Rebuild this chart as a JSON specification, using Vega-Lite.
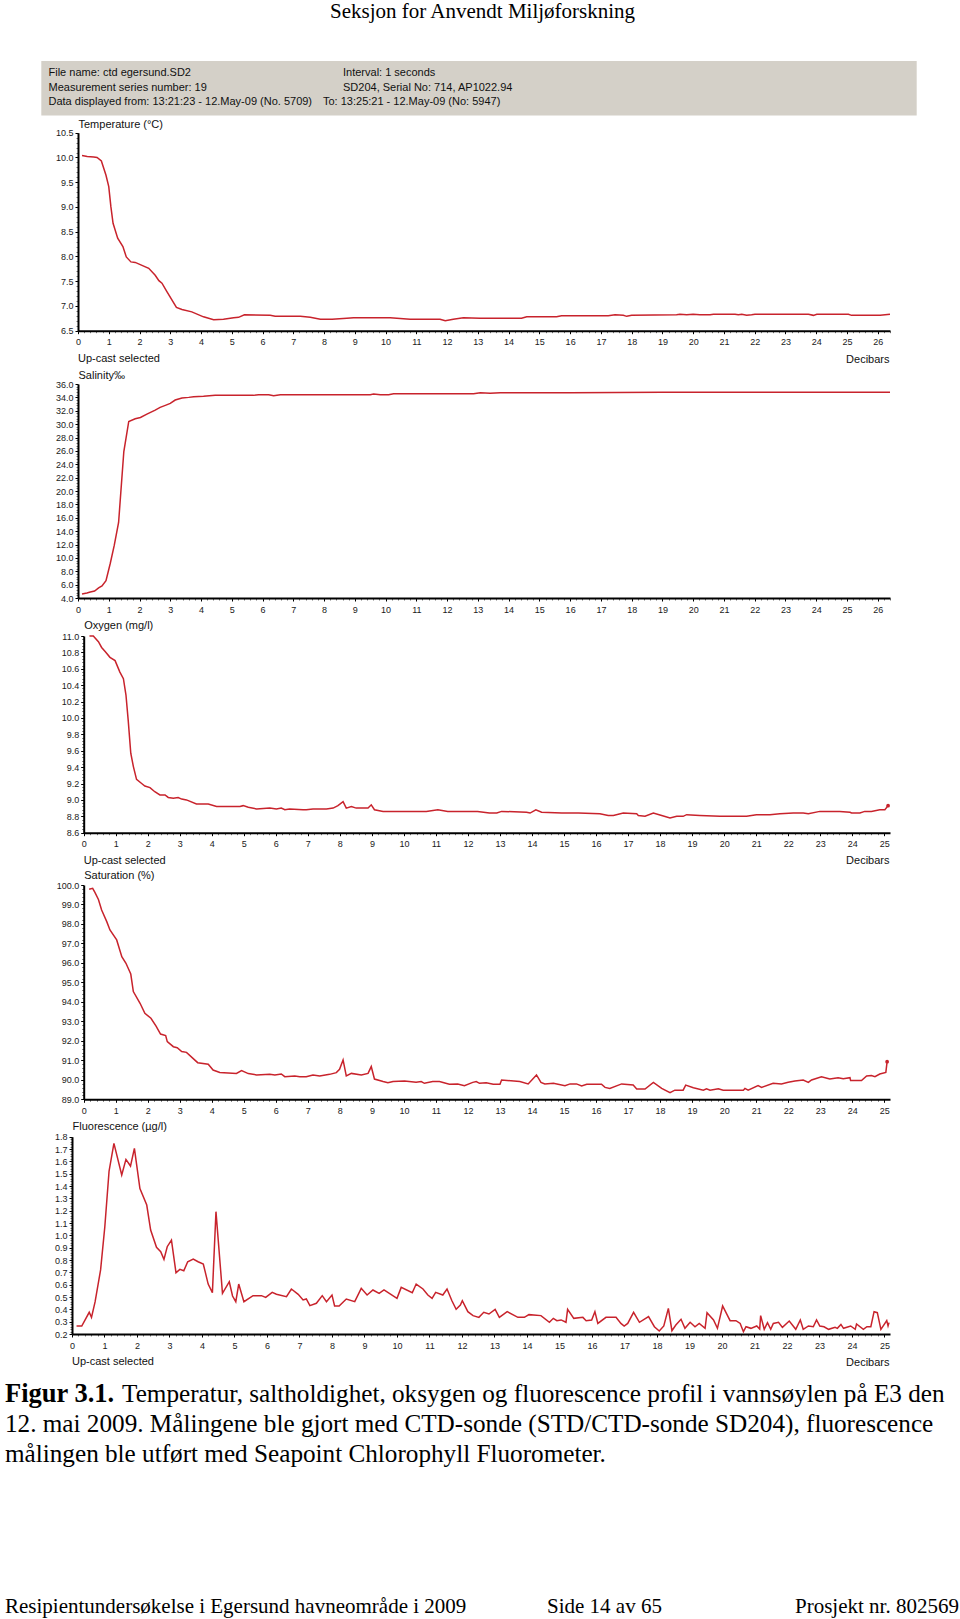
{
  "$schema": "https://vega.github.io/schema/vega-lite/v6.json",
  "width": 960,
  "height": 1619,
  "autosize": {"type": "none"},
  "padding": 0,
  "background": "white",
  "config": {
    "view": {"stroke": null},
    "axis": {
      "grid": false, "domainColor": "#000", "domainWidth": 2, "tickWidth": 1,
      "labelFont": "Liberation Sans", "labelFontSize": 9, "labelColor": "#1a1a1a", "labelFlush": false, "labelOverlap": false,
      "titleFont": "Liberation Sans", "titleFontSize": 11, "titleFontWeight": "normal", "titleColor": "#111"
    },
    "axisX": {"labelPadding": 4},
    "axisY": {"labelPadding": 2}
  },
  "resolve": {
    "scale": {"x": "independent", "y": "independent"},
    "axis": {"x": "independent", "y": "independent"}
  },
  "layer": [
    {
      "data": {"values": [{"item": "info"}]},
      "mark": {"type": "rect", "color": "#d4d0c8"},
      "encoding": {
        "x": {"field": "item", "type": "nominal", "scale": {"type": "band", "range": [41.3, 916.7], "paddingInner": 0, "paddingOuter": 0}, "axis": null},
        "y": {"field": "item", "type": "nominal", "scale": {"type": "band", "range": [61, 115.6], "paddingInner": 0, "paddingOuter": 0}, "axis": null}
      }
    },
    {
      "data": {"values": [
        {"slot": 1, "line": 1, "t": "File name: ctd egersund.SD2"},
        {"slot": 1, "line": 2, "t": "Measurement series number: 19"},
        {"slot": 1, "line": 3, "t": "Data displayed from: 13:21:23 - 12.May-09 (No. 5709)"},
        {"slot": 5, "line": 3, "t": "To: 13:25:21 - 12.May-09 (No: 5947)"},
        {"slot": 6, "line": 1, "t": "Interval: 1 seconds"},
        {"slot": 6, "line": 2, "t": "SD204, Serial No: 714, AP1022.94"},
        {"slot": 3, "line": 4, "t": "Up-cast selected"},
        {"slot": 4, "line": 5, "t": "Up-cast selected"},
        {"slot": 2, "line": 6, "t": "Up-cast selected"}
      ]},
      "mark": {"type": "text", "font": "Liberation Sans", "fontSize": 11, "align": "left", "baseline": "middle", "color": "#111"},
      "encoding": {
        "x": {"field": "slot", "type": "quantitative", "scale": {"domain": [1, 2, 3, 4, 5, 6], "range": [48.5, 72, 78, 83.7, 323, 343], "nice": false, "zero": false}, "axis": null},
        "y": {"field": "line", "type": "quantitative", "scale": {"domain": [1, 2, 3, 4, 5, 6], "range": [73.3, 87.7, 102.2, 358.7, 860.7, 1362.3], "nice": false, "zero": false}, "axis": null},
        "text": {"field": "t"}
      }
    },
    {
      "data": {"values": [
        {"kind": "page", "slot": 3, "line": 1, "t": "Seksjon for Anvendt Miljøforskning"},
        {"kind": "bold", "slot": 1, "line": 2, "t": "Figur 3.1."},
        {"kind": "cap", "slot": 2, "line": 2, "t": "Temperatur, saltholdighet, oksygen og fluorescence profil i vannsøylen på E3 den"},
        {"kind": "cap", "slot": 1, "line": 3, "t": "12. mai 2009. Målingene ble gjort med CTD-sonde (STD/CTD-sonde SD204), fluorescence"},
        {"kind": "cap", "slot": 1, "line": 4, "t": "målingen ble utført med Seapoint Chlorophyll Fluorometer."},
        {"kind": "page", "slot": 1, "line": 5, "t": "Resipientundersøkelse i Egersund havneområde i 2009"},
        {"kind": "page", "slot": 4, "line": 5, "t": "Side 14 av 65"},
        {"kind": "page", "slot": 5, "line": 5, "t": "Prosjekt nr. 802569"}
      ]},
      "encoding": {
        "x": {"field": "slot", "type": "quantitative", "scale": {"domain": [1, 2, 3, 4, 5], "range": [5, 122, 330, 547, 795], "nice": false, "zero": false}, "axis": null},
        "y": {"field": "line", "type": "quantitative", "scale": {"domain": [1, 2, 3, 4, 5], "range": [12.4, 1393.6, 1423.5, 1453.5, 1607.3], "nice": false, "zero": false}, "axis": null},
        "text": {"field": "t"}
      },
      "resolve": {"scale": {"x": "shared", "y": "shared"}},
      "layer": [
        {"transform": [{"filter": "datum.kind === 'page'"}], "mark": {"type": "text", "font": "Liberation Serif", "fontSize": 21, "align": "left", "baseline": "middle", "color": "#000"}},
        {"transform": [{"filter": "datum.kind === 'cap'"}], "mark": {"type": "text", "font": "Liberation Serif", "fontSize": 25.2, "align": "left", "baseline": "middle", "color": "#000"}},
        {"transform": [{"filter": "datum.kind === 'bold'"}], "mark": {"type": "text", "font": "Liberation Serif", "fontSize": 26.5, "fontWeight": "bold", "align": "left", "baseline": "middle", "color": "#000"}}
      ]
    },
    {
      "data": {"values": [
        {"p":0.13,"v":10.04},{"p":0.3,"v":10.02},{"p":0.51,"v":10.01},{"p":0.62,"v":10.0},{"p":0.76,"v":9.93},{"p":0.91,"v":9.64},{"p":1.0,"v":9.41},{"p":1.07,"v":9.0},{"p":1.14,"v":8.67},{"p":1.29,"v":8.37},{"p":1.46,"v":8.2},{"p":1.57,"v":7.99},{"p":1.72,"v":7.89},{"p":1.86,"v":7.88},{"p":2.08,"v":7.82},{"p":2.3,"v":7.76},{"p":2.51,"v":7.62},{"p":2.63,"v":7.51},{"p":2.73,"v":7.46},{"p":2.89,"v":7.29},{"p":3.2,"v":6.97},{"p":3.38,"v":6.93},{"p":3.7,"v":6.88},{"p":4.08,"v":6.78},{"p":4.41,"v":6.72},{"p":4.73,"v":6.73},{"p":5.06,"v":6.76},{"p":5.22,"v":6.77},{"p":5.41,"v":6.82},{"p":6.25,"v":6.81},{"p":6.41,"v":6.79},{"p":7.23,"v":6.79},{"p":7.55,"v":6.77},{"p":7.88,"v":6.73},{"p":8.26,"v":6.73},{"p":8.74,"v":6.75},{"p":8.96,"v":6.76},{"p":10.15,"v":6.76},{"p":10.58,"v":6.74},{"p":10.8,"v":6.73},{"p":11.77,"v":6.73},{"p":11.94,"v":6.70},{"p":12.2,"v":6.73},{"p":12.53,"v":6.76},{"p":13.07,"v":6.75},{"p":14.42,"v":6.75},{"p":14.59,"v":6.78},{"p":15.56,"v":6.78},{"p":15.72,"v":6.80},{"p":17.24,"v":6.80},{"p":17.46,"v":6.82},{"p":17.73,"v":6.81},{"p":17.84,"v":6.79},{"p":18.0,"v":6.81},{"p":19.46,"v":6.82},{"p":19.57,"v":6.83},{"p":19.79,"v":6.82},{"p":20.0,"v":6.83},{"p":20.22,"v":6.82},{"p":20.55,"v":6.82},{"p":20.66,"v":6.83},{"p":21.36,"v":6.83},{"p":21.47,"v":6.82},{"p":21.58,"v":6.83},{"p":21.74,"v":6.81},{"p":21.9,"v":6.82},{"p":22.01,"v":6.83},{"p":23.75,"v":6.83},{"p":23.91,"v":6.81},{"p":24.02,"v":6.83},{"p":25.05,"v":6.83},{"p":25.15,"v":6.81},{"p":26.08,"v":6.81},{"p":26.4,"v":6.83}
      ]},
      "mark": {"type": "line", "color": "#c8232c", "strokeWidth": 1.5},
      "encoding": {
        "x": {"field": "p", "type": "quantitative",
          "scale": {"domain": [0, 26.4], "range": [78, 890], "nice": false, "zero": false},
          "axis": {"orient": "bottom", "offset": -1288.3,
            "values": [0,0.2,0.4,0.6,0.8,1,1.2,1.4,1.6,1.8,2,2.2,2.4,2.6,2.8,3,3.2,3.4,3.6,3.8,4,4.2,4.4,4.6,4.8,5,5.2,5.4,5.6,5.8,6,6.2,6.4,6.6,6.8,7,7.2,7.4,7.6,7.8,8,8.2,8.4,8.6,8.8,9,9.2,9.4,9.6,9.8,10,10.2,10.4,10.6,10.8,11,11.2,11.4,11.6,11.8,12,12.2,12.4,12.6,12.8,13,13.2,13.4,13.6,13.8,14,14.2,14.4,14.6,14.8,15,15.2,15.4,15.6,15.8,16,16.2,16.4,16.6,16.8,17,17.2,17.4,17.6,17.8,18,18.2,18.4,18.6,18.8,19,19.2,19.4,19.6,19.8,20,20.2,20.4,20.6,20.8,21,21.2,21.4,21.6,21.8,22,22.2,22.4,22.6,22.8,23,23.2,23.4,23.6,23.8,24,24.2,24.4,24.6,24.8,25,25.2,25.4,25.6,25.8,26,26.2,26.4],
            "labelExpr": "datum.value % 1 === 0 ? format(datum.value, 'd') : ''",
            "tickSize": {"condition": {"test": "datum.value % 1 === 0", "value": 3}, "value": 2},
            "tickColor": {"condition": {"test": "datum.value % 1 === 0", "value": "#000"}, "value": "#777"},
            "title": "Decibars", "titleX": 889, "titleY": 28.5, "titleAlign": "right", "titleBaseline": "middle", "titleAngle": 0}},
        "y": {"field": "v", "type": "quantitative",
          "scale": {"domain": [6.5, 10.5], "range": [330.7, 132.7], "nice": false, "zero": false},
          "axis": {"orient": "left", "offset": -78,
            "values": [6.5,6.6,6.7,6.8,6.9,7,7.1,7.2,7.3,7.4,7.5,7.6,7.7,7.8,7.9,8,8.1,8.2,8.3,8.4,8.5,8.6,8.7,8.8,8.9,9,9.1,9.2,9.3,9.4,9.5,9.6,9.7,9.8,9.9,10,10.1,10.2,10.3,10.4,10.5],
            "labelExpr": "abs(datum.value*2 - round(datum.value*2)) < 0.001 ? format(datum.value, '.1f') : ''",
            "tickSize": {"condition": {"test": "abs(datum.value*2 - round(datum.value*2)) < 0.001", "value": 3}, "value": 2},
            "tickColor": {"condition": {"test": "abs(datum.value*2 - round(datum.value*2)) < 0.001", "value": "#000"}, "value": "#777"},
            "title": "Temperature (°C)", "titleAngle": 0, "titleX": 0, "titleY": 124, "titleAlign": "left", "titleBaseline": "middle"}}
      }
    },
    {
      "data": {"values": [
        {"p":0.13,"v":4.6},{"p":0.29,"v":4.75},{"p":0.4,"v":4.9},{"p":0.54,"v":5.05},{"p":0.67,"v":5.5},{"p":0.78,"v":5.8},{"p":0.91,"v":6.6},{"p":1.05,"v":9.2},{"p":1.18,"v":11.9},{"p":1.32,"v":15.3},{"p":1.49,"v":25.9},{"p":1.65,"v":30.4},{"p":1.86,"v":30.8},{"p":2.03,"v":31.0},{"p":2.24,"v":31.5},{"p":2.51,"v":32.1},{"p":2.67,"v":32.5},{"p":2.84,"v":32.8},{"p":3.0,"v":33.1},{"p":3.16,"v":33.6},{"p":3.38,"v":33.9},{"p":3.6,"v":34.0},{"p":3.76,"v":34.1},{"p":4.08,"v":34.15},{"p":4.46,"v":34.3},{"p":5.71,"v":34.3},{"p":5.87,"v":34.4},{"p":6.2,"v":34.4},{"p":6.36,"v":34.25},{"p":6.58,"v":34.4},{"p":9.5,"v":34.4},{"p":9.61,"v":34.5},{"p":9.83,"v":34.4},{"p":10.1,"v":34.4},{"p":10.26,"v":34.55},{"p":12.86,"v":34.55},{"p":13.08,"v":34.7},{"p":13.4,"v":34.6},{"p":13.73,"v":34.7},{"p":14.5,"v":34.7},{"p":16.0,"v":34.7},{"p":17.5,"v":34.72},{"p":19.0,"v":34.75},{"p":20.5,"v":34.75},{"p":22.0,"v":34.75},{"p":23.5,"v":34.75},{"p":25.0,"v":34.75},{"p":26.4,"v":34.75}
      ]},
      "mark": {"type": "line", "color": "#c8232c", "strokeWidth": 1.5},
      "encoding": {
        "x": {"field": "p", "type": "quantitative",
          "scale": {"domain": [0, 26.4], "range": [78, 890], "nice": false, "zero": false},
          "axis": {"orient": "bottom", "offset": -1021,
            "values": [0,0.2,0.4,0.6,0.8,1,1.2,1.4,1.6,1.8,2,2.2,2.4,2.6,2.8,3,3.2,3.4,3.6,3.8,4,4.2,4.4,4.6,4.8,5,5.2,5.4,5.6,5.8,6,6.2,6.4,6.6,6.8,7,7.2,7.4,7.6,7.8,8,8.2,8.4,8.6,8.8,9,9.2,9.4,9.6,9.8,10,10.2,10.4,10.6,10.8,11,11.2,11.4,11.6,11.8,12,12.2,12.4,12.6,12.8,13,13.2,13.4,13.6,13.8,14,14.2,14.4,14.6,14.8,15,15.2,15.4,15.6,15.8,16,16.2,16.4,16.6,16.8,17,17.2,17.4,17.6,17.8,18,18.2,18.4,18.6,18.8,19,19.2,19.4,19.6,19.8,20,20.2,20.4,20.6,20.8,21,21.2,21.4,21.6,21.8,22,22.2,22.4,22.6,22.8,23,23.2,23.4,23.6,23.8,24,24.2,24.4,24.6,24.8,25,25.2,25.4,25.6,25.8,26,26.2,26.4],
            "labelExpr": "datum.value % 1 === 0 ? format(datum.value, 'd') : ''",
            "tickSize": {"condition": {"test": "datum.value % 1 === 0", "value": 3}, "value": 2},
            "tickColor": {"condition": {"test": "datum.value % 1 === 0", "value": "#000"}, "value": "#777"},
            "title": null}},
        "y": {"field": "v", "type": "quantitative",
          "scale": {"domain": [4, 36], "range": [598, 384], "nice": false, "zero": false},
          "axis": {"orient": "left", "offset": -78,
            "values": [4,4.4,4.8,5.2,5.6,6,6.4,6.8,7.2,7.6,8,8.4,8.8,9.2,9.6,10,10.4,10.8,11.2,11.6,12,12.4,12.8,13.2,13.6,14,14.4,14.8,15.2,15.6,16,16.4,16.8,17.2,17.6,18,18.4,18.8,19.2,19.6,20,20.4,20.8,21.2,21.6,22,22.4,22.8,23.2,23.6,24,24.4,24.8,25.2,25.6,26,26.4,26.8,27.2,27.6,28,28.4,28.8,29.2,29.6,30,30.4,30.8,31.2,31.6,32,32.4,32.8,33.2,33.6,34,34.4,34.8,35.2,35.6,36],
            "labelExpr": "abs(datum.value/2 - round(datum.value/2)) < 0.001 ? format(datum.value, '.1f') : ''",
            "tickSize": {"condition": {"test": "abs(datum.value/2 - round(datum.value/2)) < 0.001", "value": 3}, "value": 2},
            "tickColor": {"condition": {"test": "abs(datum.value/2 - round(datum.value/2)) < 0.001", "value": "#000"}, "value": "#777"},
            "title": "Salinity‰", "titleAngle": 0, "titleX": 0, "titleY": 375, "titleAlign": "left", "titleBaseline": "middle"}}
      }
    },
    {
      "data": {"values": [
        {"p":0.18,"v":11.0},{"p":0.3,"v":11.0},{"p":0.46,"v":10.93},{"p":0.56,"v":10.86},{"p":0.67,"v":10.81},{"p":0.82,"v":10.74},{"p":0.98,"v":10.70},{"p":1.13,"v":10.56},{"p":1.24,"v":10.48},{"p":1.32,"v":10.28},{"p":1.39,"v":9.97},{"p":1.47,"v":9.57},{"p":1.55,"v":9.41},{"p":1.65,"v":9.25},{"p":1.81,"v":9.20},{"p":1.91,"v":9.17},{"p":2.07,"v":9.15},{"p":2.22,"v":9.1},{"p":2.38,"v":9.06},{"p":2.54,"v":9.06},{"p":2.64,"v":9.03},{"p":2.8,"v":9.02},{"p":2.95,"v":9.03},{"p":3.06,"v":9.01},{"p":3.21,"v":9.0},{"p":3.52,"v":8.95},{"p":3.89,"v":8.95},{"p":4.15,"v":8.92},{"p":4.88,"v":8.92},{"p":4.98,"v":8.93},{"p":5.14,"v":8.91},{"p":5.4,"v":8.89},{"p":5.81,"v":8.90},{"p":6.02,"v":8.89},{"p":6.17,"v":8.90},{"p":6.28,"v":8.88},{"p":6.43,"v":8.89},{"p":6.85,"v":8.88},{"p":6.95,"v":8.88},{"p":7.16,"v":8.89},{"p":7.58,"v":8.89},{"p":7.79,"v":8.90},{"p":7.94,"v":8.93},{"p":8.1,"v":8.98},{"p":8.2,"v":8.90},{"p":8.36,"v":8.92},{"p":8.51,"v":8.90},{"p":8.88,"v":8.90},{"p":8.98,"v":8.94},{"p":9.08,"v":8.88},{"p":9.35,"v":8.86},{"p":9.5,"v":8.86},{"p":10.59,"v":8.86},{"p":10.7,"v":8.86},{"p":11.06,"v":8.88},{"p":11.37,"v":8.86},{"p":11.79,"v":8.86},{"p":12.05,"v":8.86},{"p":12.3,"v":8.86},{"p":12.67,"v":8.84},{"p":12.9,"v":8.84},{"p":13.05,"v":8.86},{"p":13.83,"v":8.85},{"p":13.94,"v":8.84},{"p":14.12,"v":8.88},{"p":14.3,"v":8.85},{"p":14.93,"v":8.84},{"p":15.08,"v":8.84},{"p":15.45,"v":8.84},{"p":16.12,"v":8.83},{"p":16.38,"v":8.81},{"p":16.54,"v":8.81},{"p":16.85,"v":8.84},{"p":17.27,"v":8.83},{"p":17.32,"v":8.81},{"p":17.53,"v":8.80},{"p":17.79,"v":8.84},{"p":18.05,"v":8.81},{"p":18.31,"v":8.78},{"p":18.52,"v":8.80},{"p":18.72,"v":8.80},{"p":18.83,"v":8.82},{"p":19.24,"v":8.81},{"p":19.87,"v":8.80},{"p":20.7,"v":8.80},{"p":21.01,"v":8.82},{"p":21.43,"v":8.82},{"p":21.74,"v":8.83},{"p":22.16,"v":8.84},{"p":22.47,"v":8.84},{"p":22.63,"v":8.83},{"p":22.99,"v":8.86},{"p":23.4,"v":8.86},{"p":23.61,"v":8.86},{"p":23.93,"v":8.85},{"p":23.98,"v":8.84},{"p":24.24,"v":8.84},{"p":24.39,"v":8.86},{"p":24.6,"v":8.86},{"p":24.86,"v":8.88},{"p":25.02,"v":8.88},{"p":25.12,"v":8.93}
      ]},
      "encoding": {
        "x": {"field": "p", "type": "quantitative",
          "scale": {"domain": [0, 25.18], "range": [83.7, 890], "nice": false, "zero": false},
          "axis": {"orient": "bottom", "offset": -786.3,
            "values": [0,0.2,0.4,0.6,0.8,1,1.2,1.4,1.6,1.8,2,2.2,2.4,2.6,2.8,3,3.2,3.4,3.6,3.8,4,4.2,4.4,4.6,4.8,5,5.2,5.4,5.6,5.8,6,6.2,6.4,6.6,6.8,7,7.2,7.4,7.6,7.8,8,8.2,8.4,8.6,8.8,9,9.2,9.4,9.6,9.8,10,10.2,10.4,10.6,10.8,11,11.2,11.4,11.6,11.8,12,12.2,12.4,12.6,12.8,13,13.2,13.4,13.6,13.8,14,14.2,14.4,14.6,14.8,15,15.2,15.4,15.6,15.8,16,16.2,16.4,16.6,16.8,17,17.2,17.4,17.6,17.8,18,18.2,18.4,18.6,18.8,19,19.2,19.4,19.6,19.8,20,20.2,20.4,20.6,20.8,21,21.2,21.4,21.6,21.8,22,22.2,22.4,22.6,22.8,23,23.2,23.4,23.6,23.8,24,24.2,24.4,24.6,24.8,25],
            "labelExpr": "datum.value % 1 === 0 ? format(datum.value, 'd') : ''",
            "tickSize": {"condition": {"test": "datum.value % 1 === 0", "value": 3}, "value": 2},
            "tickColor": {"condition": {"test": "datum.value % 1 === 0", "value": "#000"}, "value": "#777"},
            "title": "Decibars", "titleX": 889, "titleY": 28.2, "titleAlign": "right", "titleBaseline": "middle", "titleAngle": 0}},
        "y": {"field": "v", "type": "quantitative",
          "scale": {"domain": [8.6, 11.0], "range": [832.7, 636], "nice": false, "zero": false},
          "axis": {"orient": "left", "offset": -83.7,
            "values": [8.6,8.64,8.68,8.72,8.76,8.8,8.84,8.88,8.92,8.96,9,9.04,9.08,9.12,9.16,9.2,9.24,9.28,9.32,9.36,9.4,9.44,9.48,9.52,9.56,9.6,9.64,9.68,9.72,9.76,9.8,9.84,9.88,9.92,9.96,10,10.04,10.08,10.12,10.16,10.2,10.24,10.28,10.32,10.36,10.4,10.44,10.48,10.52,10.56,10.6,10.64,10.68,10.72,10.76,10.8,10.84,10.88,10.92,10.96,11],
            "labelExpr": "abs(datum.value*5 - round(datum.value*5)) < 0.001 ? format(datum.value, '.1f') : ''",
            "tickSize": {"condition": {"test": "abs(datum.value*5 - round(datum.value*5)) < 0.001", "value": 3}, "value": 2},
            "tickColor": {"condition": {"test": "abs(datum.value*5 - round(datum.value*5)) < 0.001", "value": "#000"}, "value": "#777"},
            "title": "Oxygen (mg/l)", "titleAngle": 0, "titleX": 0, "titleY": 625, "titleAlign": "left", "titleBaseline": "middle"}}
      },
      "layer": [
        {"mark": {"type": "line", "color": "#c8232c", "strokeWidth": 1.5}},
        {"transform": [{"joinaggregate": [{"op": "max", "field": "p", "as": "pmax"}]}, {"filter": "datum.p === datum.pmax"}],
         "mark": {"type": "point", "filled": true, "color": "#c8232c", "size": 14, "opacity": 1}}
      ]
    },
    {
      "data": {"values": [
        {"p":0.17,"v":99.78},{"p":0.28,"v":99.83},{"p":0.35,"v":99.62},{"p":0.46,"v":99.26},{"p":0.56,"v":98.72},{"p":0.72,"v":98.12},{"p":0.82,"v":97.69},{"p":1.03,"v":97.18},{"p":1.19,"v":96.32},{"p":1.32,"v":95.98},{"p":1.47,"v":95.43},{"p":1.55,"v":94.53},{"p":1.76,"v":93.93},{"p":1.91,"v":93.41},{"p":2.1,"v":93.16},{"p":2.26,"v":92.76},{"p":2.4,"v":92.35},{"p":2.56,"v":92.27},{"p":2.61,"v":91.96},{"p":2.8,"v":91.70},{"p":2.92,"v":91.65},{"p":3.06,"v":91.45},{"p":3.21,"v":91.41},{"p":3.56,"v":90.88},{"p":3.89,"v":90.80},{"p":4.04,"v":90.5},{"p":4.25,"v":90.38},{"p":4.77,"v":90.33},{"p":4.93,"v":90.47},{"p":5.14,"v":90.32},{"p":5.4,"v":90.25},{"p":5.81,"v":90.28},{"p":5.97,"v":90.25},{"p":6.17,"v":90.30},{"p":6.28,"v":90.16},{"p":6.59,"v":90.20},{"p":6.75,"v":90.16},{"p":6.95,"v":90.16},{"p":7.16,"v":90.25},{"p":7.37,"v":90.20},{"p":7.68,"v":90.28},{"p":7.89,"v":90.37},{"p":7.99,"v":90.54},{"p":8.1,"v":91.02},{"p":8.2,"v":90.2},{"p":8.36,"v":90.33},{"p":8.67,"v":90.25},{"p":8.88,"v":90.33},{"p":8.98,"v":90.68},{"p":9.08,"v":90.04},{"p":9.35,"v":89.91},{"p":9.5,"v":89.85},{"p":9.66,"v":89.91},{"p":10.02,"v":89.94},{"p":10.38,"v":89.87},{"p":10.54,"v":89.91},{"p":10.64,"v":89.82},{"p":10.9,"v":89.91},{"p":11.11,"v":89.91},{"p":11.42,"v":89.77},{"p":11.68,"v":89.79},{"p":11.89,"v":89.70},{"p":12.15,"v":89.87},{"p":12.26,"v":89.91},{"p":12.36,"v":89.82},{"p":12.57,"v":89.85},{"p":12.79,"v":89.77},{"p":13.0,"v":89.77},{"p":13.05,"v":89.99},{"p":13.62,"v":89.91},{"p":13.88,"v":89.79},{"p":14.14,"v":90.25},{"p":14.28,"v":89.87},{"p":14.4,"v":89.79},{"p":14.67,"v":89.82},{"p":15.03,"v":89.70},{"p":15.19,"v":89.79},{"p":15.39,"v":89.79},{"p":15.55,"v":89.68},{"p":15.71,"v":89.77},{"p":16.17,"v":89.77},{"p":16.28,"v":89.61},{"p":16.43,"v":89.56},{"p":16.8,"v":89.79},{"p":17.16,"v":89.73},{"p":17.27,"v":89.53},{"p":17.53,"v":89.53},{"p":17.79,"v":89.87},{"p":18.05,"v":89.56},{"p":18.31,"v":89.34},{"p":18.46,"v":89.47},{"p":18.72,"v":89.47},{"p":18.8,"v":89.73},{"p":19.04,"v":89.59},{"p":19.35,"v":89.47},{"p":19.45,"v":89.54},{"p":19.56,"v":89.47},{"p":19.82,"v":89.54},{"p":19.97,"v":89.47},{"p":20.6,"v":89.47},{"p":20.65,"v":89.56},{"p":20.75,"v":89.47},{"p":21.06,"v":89.70},{"p":21.17,"v":89.61},{"p":21.53,"v":89.82},{"p":21.79,"v":89.79},{"p":22.0,"v":89.87},{"p":22.21,"v":89.94},{"p":22.47,"v":89.99},{"p":22.63,"v":89.87},{"p":22.73,"v":89.99},{"p":23.04,"v":90.16},{"p":23.3,"v":90.04},{"p":23.56,"v":90.11},{"p":23.72,"v":90.06},{"p":23.93,"v":90.11},{"p":23.95,"v":89.96},{"p":24.29,"v":89.96},{"p":24.45,"v":90.2},{"p":24.6,"v":90.22},{"p":24.71,"v":90.16},{"p":24.86,"v":90.3},{"p":25.05,"v":90.38},{"p":25.09,"v":90.93}
      ]},
      "encoding": {
        "x": {"field": "p", "type": "quantitative",
          "scale": {"domain": [0, 25.18], "range": [83.7, 890], "nice": false, "zero": false},
          "axis": {"orient": "bottom", "offset": -519.7,
            "values": [0,0.2,0.4,0.6,0.8,1,1.2,1.4,1.6,1.8,2,2.2,2.4,2.6,2.8,3,3.2,3.4,3.6,3.8,4,4.2,4.4,4.6,4.8,5,5.2,5.4,5.6,5.8,6,6.2,6.4,6.6,6.8,7,7.2,7.4,7.6,7.8,8,8.2,8.4,8.6,8.8,9,9.2,9.4,9.6,9.8,10,10.2,10.4,10.6,10.8,11,11.2,11.4,11.6,11.8,12,12.2,12.4,12.6,12.8,13,13.2,13.4,13.6,13.8,14,14.2,14.4,14.6,14.8,15,15.2,15.4,15.6,15.8,16,16.2,16.4,16.6,16.8,17,17.2,17.4,17.6,17.8,18,18.2,18.4,18.6,18.8,19,19.2,19.4,19.6,19.8,20,20.2,20.4,20.6,20.8,21,21.2,21.4,21.6,21.8,22,22.2,22.4,22.6,22.8,23,23.2,23.4,23.6,23.8,24,24.2,24.4,24.6,24.8,25],
            "labelExpr": "datum.value % 1 === 0 ? format(datum.value, 'd') : ''",
            "tickSize": {"condition": {"test": "datum.value % 1 === 0", "value": 3}, "value": 2},
            "tickColor": {"condition": {"test": "datum.value % 1 === 0", "value": "#000"}, "value": "#777"},
            "title": null}},
        "y": {"field": "v", "type": "quantitative",
          "scale": {"domain": [89, 100], "range": [1099.3, 885], "nice": false, "zero": false},
          "axis": {"orient": "left", "offset": -83.7,
            "values": [89,89.2,89.4,89.6,89.8,90,90.2,90.4,90.6,90.8,91,91.2,91.4,91.6,91.8,92,92.2,92.4,92.6,92.8,93,93.2,93.4,93.6,93.8,94,94.2,94.4,94.6,94.8,95,95.2,95.4,95.6,95.8,96,96.2,96.4,96.6,96.8,97,97.2,97.4,97.6,97.8,98,98.2,98.4,98.6,98.8,99,99.2,99.4,99.6,99.8,100],
            "labelExpr": "datum.value % 1 === 0 ? format(datum.value, '.1f') : ''",
            "tickSize": {"condition": {"test": "datum.value % 1 === 0", "value": 3}, "value": 2},
            "tickColor": {"condition": {"test": "datum.value % 1 === 0", "value": "#000"}, "value": "#777"},
            "title": "Saturation (%)", "titleAngle": 0, "titleX": 0, "titleY": 875, "titleAlign": "left", "titleBaseline": "middle"}}
      },
      "layer": [
        {"mark": {"type": "line", "color": "#c8232c", "strokeWidth": 1.5}},
        {"transform": [{"joinaggregate": [{"op": "max", "field": "p", "as": "pmax"}]}, {"filter": "datum.p === datum.pmax"}],
         "mark": {"type": "point", "filled": true, "color": "#c8232c", "size": 14, "opacity": 1}}
      ]
    },
    {
      "data": {"values": [
        {"p":0.14,"v":0.265},{"p":0.3,"v":0.265},{"p":0.53,"v":0.376},{"p":0.6,"v":0.335},{"p":0.71,"v":0.46},{"p":0.88,"v":0.72},{"p":1.01,"v":1.07},{"p":1.14,"v":1.52},{"p":1.29,"v":1.746},{"p":1.53,"v":1.49},{"p":1.66,"v":1.616},{"p":1.8,"v":1.562},{"p":1.92,"v":1.705},{"p":2.09,"v":1.38},{"p":2.3,"v":1.246},{"p":2.42,"v":1.043},{"p":2.6,"v":0.903},{"p":2.73,"v":0.868},{"p":2.83,"v":0.805},{"p":2.93,"v":0.908},{"p":3.06,"v":0.962},{"p":3.2,"v":0.697},{"p":3.32,"v":0.724},{"p":3.44,"v":0.713},{"p":3.56,"v":0.786},{"p":3.73,"v":0.808},{"p":3.88,"v":0.786},{"p":4.04,"v":0.768},{"p":4.19,"v":0.605},{"p":4.32,"v":0.535},{"p":4.43,"v":1.192},{"p":4.63,"v":0.53},{"p":4.84,"v":0.624},{"p":4.94,"v":0.508},{"p":5.04,"v":0.462},{"p":5.13,"v":0.605},{"p":5.29,"v":0.462},{"p":5.57,"v":0.511},{"p":5.83,"v":0.511},{"p":5.96,"v":0.497},{"p":6.16,"v":0.538},{"p":6.29,"v":0.522},{"p":6.6,"v":0.503},{"p":6.75,"v":0.565},{"p":6.96,"v":0.522},{"p":7.11,"v":0.476},{"p":7.21,"v":0.484},{"p":7.32,"v":0.43},{"p":7.52,"v":0.449},{"p":7.7,"v":0.511},{"p":7.83,"v":0.462},{"p":8.0,"v":0.516},{"p":8.08,"v":0.427},{"p":8.22,"v":0.427},{"p":8.44,"v":0.484},{"p":8.7,"v":0.462},{"p":8.9,"v":0.570},{"p":9.08,"v":0.516},{"p":9.26,"v":0.557},{"p":9.45,"v":0.530},{"p":9.6,"v":0.557},{"p":10.0,"v":0.489},{"p":10.13,"v":0.578},{"p":10.47,"v":0.535},{"p":10.59,"v":0.605},{"p":10.8,"v":0.565},{"p":10.95,"v":0.516},{"p":11.08,"v":0.489},{"p":11.19,"v":0.538},{"p":11.41,"v":0.516},{"p":11.54,"v":0.565},{"p":11.69,"v":0.470},{"p":11.82,"v":0.4},{"p":11.95,"v":0.435},{"p":12.01,"v":0.47},{"p":12.18,"v":0.381},{"p":12.34,"v":0.349},{"p":12.52,"v":0.335},{"p":12.67,"v":0.376},{"p":12.83,"v":0.362},{"p":13.02,"v":0.4},{"p":13.15,"v":0.335},{"p":13.39,"v":0.381},{"p":13.72,"v":0.335},{"p":13.92,"v":0.335},{"p":14.06,"v":0.357},{"p":14.43,"v":0.349},{"p":14.69,"v":0.295},{"p":14.81,"v":0.327},{"p":14.92,"v":0.308},{"p":15.05,"v":0.314},{"p":15.2,"v":0.295},{"p":15.25,"v":0.4},{"p":15.44,"v":0.327},{"p":15.72,"v":0.335},{"p":15.82,"v":0.308},{"p":15.99,"v":0.314},{"p":16.09,"v":0.381},{"p":16.18,"v":0.286},{"p":16.43,"v":0.335},{"p":16.74,"v":0.335},{"p":16.89,"v":0.286},{"p":16.99,"v":0.265},{"p":17.1,"v":0.286},{"p":17.28,"v":0.376},{"p":17.46,"v":0.295},{"p":17.74,"v":0.341},{"p":17.92,"v":0.259},{"p":18.07,"v":0.224},{"p":18.21,"v":0.265},{"p":18.35,"v":0.408},{"p":18.46,"v":0.227},{"p":18.58,"v":0.273},{"p":18.74,"v":0.319},{"p":18.86,"v":0.246},{"p":19.02,"v":0.295},{"p":19.17,"v":0.259},{"p":19.3,"v":0.286},{"p":19.48,"v":0.246},{"p":19.54,"v":0.373},{"p":19.74,"v":0.314},{"p":19.86,"v":0.246},{"p":20.02,"v":0.427},{"p":20.25,"v":0.308},{"p":20.43,"v":0.308},{"p":20.56,"v":0.286},{"p":20.66,"v":0.219},{"p":20.74,"v":0.259},{"p":20.89,"v":0.246},{"p":21.07,"v":0.265},{"p":21.16,"v":0.241},{"p":21.19,"v":0.349},{"p":21.3,"v":0.238},{"p":21.4,"v":0.292},{"p":21.5,"v":0.238},{"p":21.58,"v":0.286},{"p":21.74,"v":0.295},{"p":21.86,"v":0.254},{"p":22.07,"v":0.305},{"p":22.27,"v":0.238},{"p":22.41,"v":0.314},{"p":22.5,"v":0.238},{"p":22.66,"v":0.265},{"p":22.81,"v":0.259},{"p":22.91,"v":0.314},{"p":23.01,"v":0.265},{"p":23.14,"v":0.259},{"p":23.28,"v":0.238},{"p":23.48,"v":0.254},{"p":23.55,"v":0.246},{"p":23.66,"v":0.278},{"p":23.74,"v":0.246},{"p":23.96,"v":0.265},{"p":24.1,"v":0.238},{"p":24.14,"v":0.281},{"p":24.35,"v":0.238},{"p":24.46,"v":0.259},{"p":24.58,"v":0.259},{"p":24.68,"v":0.381},{"p":24.78,"v":0.373},{"p":24.89,"v":0.238},{"p":25.07,"v":0.308},{"p":25.11,"v":0.265},{"p":25.14,"v":0.292}
      ]},
      "mark": {"type": "line", "color": "#c8232c", "strokeWidth": 1.5},
      "encoding": {
        "x": {"field": "p", "type": "quantitative",
          "scale": {"domain": [0, 25.17], "range": [72, 890], "nice": false, "zero": false},
          "axis": {"orient": "bottom", "offset": -285,
            "values": [0,0.2,0.4,0.6,0.8,1,1.2,1.4,1.6,1.8,2,2.2,2.4,2.6,2.8,3,3.2,3.4,3.6,3.8,4,4.2,4.4,4.6,4.8,5,5.2,5.4,5.6,5.8,6,6.2,6.4,6.6,6.8,7,7.2,7.4,7.6,7.8,8,8.2,8.4,8.6,8.8,9,9.2,9.4,9.6,9.8,10,10.2,10.4,10.6,10.8,11,11.2,11.4,11.6,11.8,12,12.2,12.4,12.6,12.8,13,13.2,13.4,13.6,13.8,14,14.2,14.4,14.6,14.8,15,15.2,15.4,15.6,15.8,16,16.2,16.4,16.6,16.8,17,17.2,17.4,17.6,17.8,18,18.2,18.4,18.6,18.8,19,19.2,19.4,19.6,19.8,20,20.2,20.4,20.6,20.8,21,21.2,21.4,21.6,21.8,22,22.2,22.4,22.6,22.8,23,23.2,23.4,23.6,23.8,24,24.2,24.4,24.6,24.8,25],
            "labelExpr": "datum.value % 1 === 0 ? format(datum.value, 'd') : ''",
            "tickSize": {"condition": {"test": "datum.value % 1 === 0", "value": 3}, "value": 2},
            "tickColor": {"condition": {"test": "datum.value % 1 === 0", "value": "#000"}, "value": "#777"},
            "title": "Decibars", "titleX": 889, "titleY": 28.3, "titleAlign": "right", "titleBaseline": "middle", "titleAngle": 0}},
        "y": {"field": "v", "type": "quantitative",
          "scale": {"domain": [0.2, 1.8], "range": [1334, 1136.7], "nice": false, "zero": false},
          "axis": {"orient": "left", "offset": -72,
            "values": [0.2,0.22,0.24,0.26,0.28,0.3,0.32,0.34,0.36,0.38,0.4,0.42,0.44,0.46,0.48,0.5,0.52,0.54,0.56,0.58,0.6,0.62,0.64,0.66,0.68,0.7,0.72,0.74,0.76,0.78,0.8,0.82,0.84,0.86,0.88,0.9,0.92,0.94,0.96,0.98,1,1.02,1.04,1.06,1.08,1.1,1.12,1.14,1.16,1.18,1.2,1.22,1.24,1.26,1.28,1.3,1.32,1.34,1.36,1.38,1.4,1.42,1.44,1.46,1.48,1.5,1.52,1.54,1.56,1.58,1.6,1.62,1.64,1.66,1.68,1.7,1.72,1.74,1.76,1.78,1.8],
            "labelExpr": "abs(datum.value*10 - round(datum.value*10)) < 0.001 ? format(datum.value, '.1f') : ''",
            "tickSize": {"condition": {"test": "abs(datum.value*10 - round(datum.value*10)) < 0.001", "value": 3}, "value": 2},
            "tickColor": {"condition": {"test": "abs(datum.value*10 - round(datum.value*10)) < 0.001", "value": "#000"}, "value": "#777"},
            "title": "Fluorescence (µg/l)", "titleAngle": 0, "titleX": 0, "titleY": 1126, "titleAlign": "left", "titleBaseline": "middle"}}
      }
    }
  ]
}
